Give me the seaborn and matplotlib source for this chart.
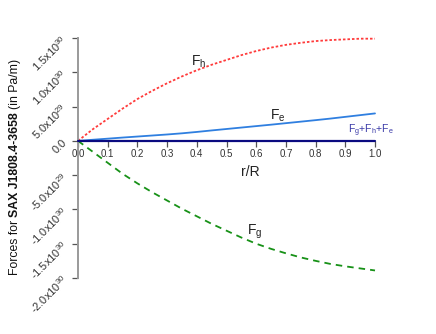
import numpy as np
import pandas as pd
import seaborn as sns
import matplotlib.pyplot as plt

# radial coordinate r/R
r = [0.0, 0.05, 0.1, 0.15, 0.2, 0.25, 0.3, 0.35, 0.4, 0.45, 0.5,
     0.55, 0.6, 0.65, 0.7, 0.75, 0.8, 0.85, 0.9, 0.95, 1.0]
# forces in units of 1e30 Pa/m
f_h = [0.0, 0.17, 0.32, 0.47, 0.61, 0.73, 0.84, 0.94, 1.03, 1.11, 1.18,
       1.25, 1.31, 1.36, 1.40, 1.43, 1.455, 1.47, 1.48, 1.49, 1.49]
f_e = [0.0, 0.016, 0.032, 0.048, 0.063, 0.078, 0.093, 0.11, 0.13, 0.152, 0.173,
       0.194, 0.215, 0.236, 0.258, 0.28, 0.302, 0.325, 0.35, 0.375, 0.40]
f_g = [0.0, -0.16, -0.32, -0.48, -0.62, -0.75, -0.87, -0.99, -1.10, -1.21, -1.31,
       -1.41, -1.50, -1.575, -1.64, -1.70, -1.75, -1.795, -1.83, -1.86, -1.89]
f_sum = [0.0] * len(r)

x_ticks = [0.0, 0.1, 0.2, 0.3, 0.4, 0.5, 0.6, 0.7, 0.8, 0.9, 1.0]
x_tick_labels = ["0.0", "0.1", "0.2", "0.3", "0.4", "0.5", "0.6", "0.7", "0.8", "0.9", "1.0"]
y_ticks = [-2.0, -1.5, -1.0, -0.5, 0.0, 0.5, 1.0, 1.5]
y_tick_labels = ["-2.0x10$^{30}$", "-1.5x10$^{30}$", "-1.0x10$^{30}$", "-5.0x10$^{29}$",
                 "0.0", "5.0x10$^{29}$", "1.0x10$^{30}$", "1.5x10$^{30}$"]

df = pd.DataFrame({"r": r, "Fh": f_h, "Fe": f_e, "Fg": f_g, "Fsum": f_sum})

sns.set_style("white")
plt.rcParams['font.family'] = ['Liberation Sans', 'DejaVu Sans']
plt.rcParams['mathtext.fontset'] = 'custom'
plt.rcParams['mathtext.rm'] = 'Liberation Sans'
plt.rcParams['mathtext.it'] = 'Liberation Sans:italic'
plt.rcParams['mathtext.bf'] = 'Liberation Sans:bold'

W, H = 436, 334
fig = plt.figure(figsize=(W / 100, H / 100), dpi=100)
ax = fig.add_axes([78 / W, 56 / H, 297 / W, 240 / H])

sns.lineplot(data=df, x="r", y="Fh", ax=ax, color="#ff3b3b", lw=1.3,
             linestyle=(0, (1.4, 1.1)), clip_on=False)
sns.lineplot(data=df, x="r", y="Fe", ax=ax, color="#2f7fe0", lw=1.3, clip_on=False)
sns.lineplot(data=df, x="r", y="Fg", ax=ax, color="#179117", lw=1.3,
             linestyle=(0, (3.6, 2.8)), clip_on=False)
sns.lineplot(data=df, x="r", y="Fsum", ax=ax, color="#0a0a80", lw=1.6, clip_on=False, zorder=5)

ax.set_xlim(0, 1)
ax.set_ylim(-2.0, 1.5)
for s in ["top", "right", "bottom"]:
    ax.spines[s].set_visible(False)
ax.spines["bottom"].set_position(("data", 0))
ax.spines["left"].set_bounds(-2.0, 1.5)
ax.spines["left"].set_color("#9a9a9a")
ax.spines["left"].set_linewidth(1.4)

ax.set_xticks(x_ticks)
ax.set_xticklabels(x_tick_labels, fontsize=7, color="#333333")
ax.set_yticks(y_ticks)
ax.set_yticklabels(y_tick_labels, fontsize=8, color="#333333", rotation=45,
                   ha="right", va="center", rotation_mode="anchor")
ax.tick_params(axis="x", direction="out", length=4, width=0.9, color="#555555", pad=2,
               bottom=True)
ax.tick_params(axis="y", direction="out", length=4, width=0.9, color="#555555", pad=5,
               left=True)
ax.set_xlabel("")
ax.set_ylabel("")
ax.grid(False)

# curve labels
ax.text(0.38, 1.15, r"$\mathregular{F_h}$", fontsize=10, color="#222222", ha="left", va="center")
ax.text(0.645, 0.36, r"$\mathregular{F_e}$", fontsize=10, color="#222222", ha="left", va="center")
ax.text(0.57, -1.33, r"$\mathregular{F_g}$", fontsize=10, color="#222222", ha="left", va="center")
ax.text(0.91, 0.15, r"$\mathregular{F_g{+}F_h{+}F_e}$", fontsize=7.5, color="#3a3aa8",
        ha="left", va="center", clip_on=False)

fig.text(250 / W, 1 - 172 / H, "r/R", fontsize=10, color="#222222", ha="center", va="center")

# y label with a bold star name
renderer = fig.canvas.get_renderer()
pieces = [("Forces for", "normal"), ("SAX J1808.4-3658", "bold"), ("(in Pa/m)", "normal")]
ypos = 334 - 275
gap = 3.0
for txt, wt in pieces:
    t = fig.text(15 / W, ypos / H, txt, fontsize=8.8, fontweight=wt, rotation=90,
                 rotation_mode="anchor", ha="left", va="center", color="#111111")
    ext = t.get_window_extent(renderer)
    ypos += ext.height + gap

fig.savefig("out.png", dpi=100)
